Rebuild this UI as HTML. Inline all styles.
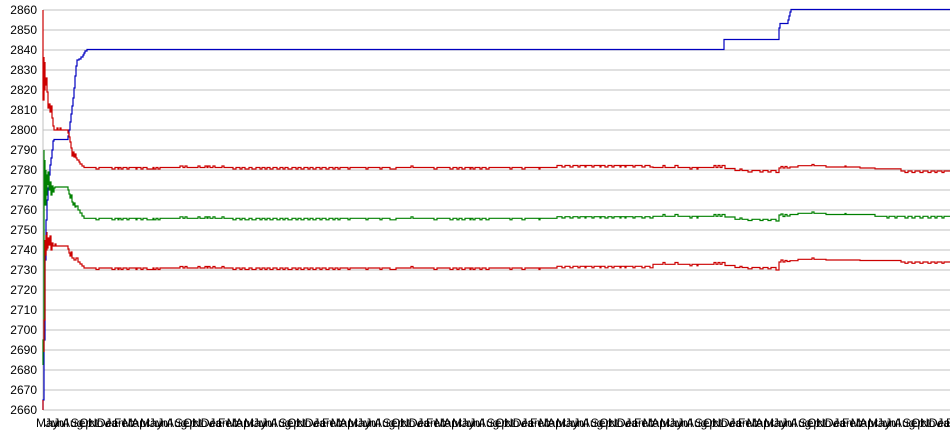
<!DOCTYPE html>
<html>
<head>
<meta charset="utf-8">
<style>
html,body{margin:0;padding:0;background:#fff;}
svg{display:block;}
text{font-family:"Liberation Sans",Arial,sans-serif;fill:#000;}
</style>
</head>
<body>
<svg width="950" height="435" viewBox="0 0 950 435" xmlns="http://www.w3.org/2000/svg">
<rect x="0" y="0" width="950" height="435" fill="#fff"/>
<g stroke="#c0c0c0" stroke-width="1" shape-rendering="crispEdges">
<line x1="43" y1="10" x2="950" y2="10"/>
<line x1="43" y1="30" x2="950" y2="30"/>
<line x1="43" y1="50" x2="950" y2="50"/>
<line x1="43" y1="70" x2="950" y2="70"/>
<line x1="43" y1="90" x2="950" y2="90"/>
<line x1="43" y1="110" x2="950" y2="110"/>
<line x1="43" y1="130" x2="950" y2="130"/>
<line x1="43" y1="150" x2="950" y2="150"/>
<line x1="43" y1="170" x2="950" y2="170"/>
<line x1="43" y1="190" x2="950" y2="190"/>
<line x1="43" y1="210" x2="950" y2="210"/>
<line x1="43" y1="230" x2="950" y2="230"/>
<line x1="43" y1="250" x2="950" y2="250"/>
<line x1="43" y1="270" x2="950" y2="270"/>
<line x1="43" y1="290" x2="950" y2="290"/>
<line x1="43" y1="310" x2="950" y2="310"/>
<line x1="43" y1="330" x2="950" y2="330"/>
<line x1="43" y1="350" x2="950" y2="350"/>
<line x1="43" y1="370" x2="950" y2="370"/>
<line x1="43" y1="390" x2="950" y2="390"/>
<line x1="43" y1="410" x2="950" y2="410"/>
<line x1="43" y1="10" x2="43" y2="410"/>
</g>
<g font-size="12" text-anchor="end">
<text x="37" y="14">2860</text>
<text x="37" y="34">2850</text>
<text x="37" y="54">2840</text>
<text x="37" y="74">2830</text>
<text x="37" y="94">2820</text>
<text x="37" y="114">2810</text>
<text x="37" y="134">2800</text>
<text x="37" y="154">2790</text>
<text x="37" y="174">2780</text>
<text x="37" y="194">2770</text>
<text x="37" y="214">2760</text>
<text x="37" y="234">2750</text>
<text x="37" y="254">2740</text>
<text x="37" y="274">2730</text>
<text x="37" y="294">2720</text>
<text x="37" y="314">2710</text>
<text x="37" y="334">2700</text>
<text x="37" y="354">2690</text>
<text x="37" y="374">2680</text>
<text x="37" y="394">2670</text>
<text x="37" y="414">2660</text>
</g>
<g font-size="12">
<g transform="translate(0,427)"><text x="36">May</text><text x="44.7">Jun</text><text x="53.3">Jul</text><text x="62">Aug</text><text x="70.7">Sep</text><text x="79.3">Oct</text><text x="88">Nov</text><text x="96.7">Dec</text><text x="105.3">Jan</text><text x="114">Feb</text><text x="122.7">Mar</text><text x="131.3">Apr</text></g>
<g transform="translate(104,427)"><text x="36">May</text><text x="44.7">Jun</text><text x="53.3">Jul</text><text x="62">Aug</text><text x="70.7">Sep</text><text x="79.3">Oct</text><text x="88">Nov</text><text x="96.7">Dec</text><text x="105.3">Jan</text><text x="114">Feb</text><text x="122.7">Mar</text><text x="131.3">Apr</text></g>
<g transform="translate(208,427)"><text x="36">May</text><text x="44.7">Jun</text><text x="53.3">Jul</text><text x="62">Aug</text><text x="70.7">Sep</text><text x="79.3">Oct</text><text x="88">Nov</text><text x="96.7">Dec</text><text x="105.3">Jan</text><text x="114">Feb</text><text x="122.7">Mar</text><text x="131.3">Apr</text></g>
<g transform="translate(312,427)"><text x="36">May</text><text x="44.7">Jun</text><text x="53.3">Jul</text><text x="62">Aug</text><text x="70.7">Sep</text><text x="79.3">Oct</text><text x="88">Nov</text><text x="96.7">Dec</text><text x="105.3">Jan</text><text x="114">Feb</text><text x="122.7">Mar</text><text x="131.3">Apr</text></g>
<g transform="translate(416,427)"><text x="36">May</text><text x="44.7">Jun</text><text x="53.3">Jul</text><text x="62">Aug</text><text x="70.7">Sep</text><text x="79.3">Oct</text><text x="88">Nov</text><text x="96.7">Dec</text><text x="105.3">Jan</text><text x="114">Feb</text><text x="122.7">Mar</text><text x="131.3">Apr</text></g>
<g transform="translate(520,427)"><text x="36">May</text><text x="44.7">Jun</text><text x="53.3">Jul</text><text x="62">Aug</text><text x="70.7">Sep</text><text x="79.3">Oct</text><text x="88">Nov</text><text x="96.7">Dec</text><text x="105.3">Jan</text><text x="114">Feb</text><text x="122.7">Mar</text><text x="131.3">Apr</text></g>
<g transform="translate(624,427)"><text x="36">May</text><text x="44.7">Jun</text><text x="53.3">Jul</text><text x="62">Aug</text><text x="70.7">Sep</text><text x="79.3">Oct</text><text x="88">Nov</text><text x="96.7">Dec</text><text x="105.3">Jan</text><text x="114">Feb</text><text x="122.7">Mar</text><text x="131.3">Apr</text></g>
<g transform="translate(728,427)"><text x="36">May</text><text x="44.7">Jun</text><text x="53.3">Jul</text><text x="62">Aug</text><text x="70.7">Sep</text><text x="79.3">Oct</text><text x="88">Nov</text><text x="96.7">Dec</text><text x="105.3">Jan</text><text x="114">Feb</text><text x="122.7">Mar</text><text x="131.3">Apr</text></g>
<g transform="translate(832,427)"><text x="36">May</text><text x="44.7">Jun</text><text x="53.3">Jul</text><text x="62">Aug</text><text x="70.7">Sep</text><text x="79.3">Oct</text><text x="88">Nov</text><text x="96.7">Dec</text><text x="105.3">Jan</text><text x="114">Feb</text><text x="122.7">Mar</text><text x="131.3">Apr</text></g>
</g>
<g fill="none" stroke-width="1.2" stroke-linejoin="miter">
<path stroke="#0000c0" d="M43,410 V400 H44 V340 H45 V260 H46 V220 H47 V200 H48 V188 H49 V175 H50 V165 H51 V158 H52 V150 H53 V141 H54 V139.5 H68 V136 H69 V130 H70 V122 H71 V114 H72 V106 H73 V98 H74 V88 H75 V76 H76 V66 H77 V60 H79 V59 H81 V57 H83 V55 H84 V53 H85 V51 H87 V49.5 H724 V39.5 H779 V28 H780 V23.5 H788 V20 H789 V16 H790 V12 H791 V9.5 H950"/>
<path stroke="#008000" d="M43,365 V340 H44 V150 V200 H45 V160 V205 H46 V170 V195 H47 V175 H48 V185 V172 H49 V190 H50 V182 H51 V195 H52 V186 H53 V192 H54 V188 H55 V187 H68 V190 H69 V194 H70 V198 H71 V195 H72 V202 H73 V205 H74 V203 H75 V207 H76 V206 H78 V210 H80 V213 H82 V216 H84 V218.3 H96 V219.8 H99 V218.3 H112 V219.8 H115 V218.3 H118 V219.8 H119 V218.3 H121 V219.8 H123 V218.3 H127 V219.8 H129 V218.3 H136 V219.8 H137 V218.3 H141 V219.8 H143 V218.3 H147 V219.8 H153 V218.3 H154 V219.8 H156 V218.3 H158 V219.8 H160 V218.3 H180 V216.8 H183 V218.3 H185 V216.8 H187 V218.3 H198 V216.8 H200 V218.3 H205 V216.8 H207 V218.3 H208 V216.8 H210 V218.3 H213 V216.8 H215 V218.3 H222 V216.8 H224 V218.3 H233 V219.8 H236 V218.3 H240 V219.8 H242 V218.3 H245 V219.8 H249 V218.3 H252 V219.8 H256 V218.3 H260 V219.8 H262 V218.3 H265 V219.8 H267 V218.3 H270 V219.8 H273 V218.3 H277 V219.8 H280 V218.3 H283 V219.8 H285 V218.3 H288 V219.8 H292 V218.3 H296 V219.8 H298 V218.3 H301 V219.8 H304 V218.3 H308 V219.8 H310 V218.3 H313 V219.8 H316 V218.3 H320 V219.8 H322 V218.3 H326 V219.8 H329 V218.3 H333 V219.8 H335 V218.3 H338 V219.8 H340 V218.3 H348 V219.8 H350 V218.3 H366 V219.8 H368 V218.3 H380 V219.8 H382 V218.3 H390 V219.8 H396 V218.3 H411 V216.8 H413 V218.3 H434 V219.8 H437 V218.3 H450 V219.8 H453 V218.3 H457 V219.8 H459 V218.3 H462 V219.8 H465 V218.3 H470 V219.8 H471 V218.3 H473 V219.8 H475 V218.3 H480 V219.8 H482 V218.3 H486 V219.8 H489 V218.3 H510 V219.8 H512 V218.3 H522 V219.8 H525 V218.3 H539 V219.8 H540 V218.3 H557 V216.7 H562 V218 H565 V216.7 H570 V218 H573 V216.7 H578 V218 H580 V216.7 H585 V218 H586 V216.7 H592 V218 H594 V216.7 H600 V218 H601 V216.7 H605 V218 H608 V216.7 H612 V218 H614 V216.7 H620 V218 H621 V216.7 H625 V218 H626 V216.7 H633 V218 H635 V216.7 H642 V218 H645 V216.7 H650 V218 H653 V216.3 H663 V214.5 H665 V216.3 H675 V214.5 H678 V216.3 H690 V218 H692 V216.3 H697 V218 H698 V216.3 H714 V214.5 H716 V216.3 H718 V214.5 H720 V216.3 H722 V214.5 H725 V217 H735 V219.3 H740 V218 H742 V219.3 H748 V220.5 H752 V219.3 H760 V220.5 H763 V219.3 H768 V220.5 H771 V219.3 H776 V221 H779 V215 H781 V214 H783 V216.5 H785 V214.5 H787 V216 H790 V214.5 H798 V213.3 H812 V212 H814 V213.3 H826 V214.5 H845 V213.5 H846 V214.5 H875 V216.3 H887 V218 H889 V216.3 H895 V218 H897 V216.3 H905 V218 H908 V216.3 H912 V218 H915 V216.3 H920 V218 H923 V216.3 H928 V218 H931 V216.3 H935 V218 H937 V216.3 H942 V218 H944 V216.3 H950"/>
<path stroke="#cc0000" d="M43,10 V100 H44 V57 V90 H45 V62 V85 H46 V78 H47 V92 H48 V98 V108 H49 V104 H50 V112 H51 V106 H52 V118 H53 V126 H54 V130 H57 V128 H58 V130 H60 V128 H61 V130 H68 V133 H69 V137 H70 V142 H71 V148 H72 V156 H73 V152 H74 V157 H75 V154 H76 V158 H77 V160 H79 V162 H80 V164 H82 V166 H84 V167.5 H96 V169 H99 V167.5 H112 V169 H115 V167.5 H118 V169 H119 V167.5 H121 V169 H123 V167.5 H127 V169 H129 V167.5 H136 V169 H137 V167.5 H141 V169 H143 V167.5 H147 V169 H153 V167.5 H154 V169 H156 V167.5 H158 V169 H160 V167.5 H180 V166 H183 V167.5 H185 V166 H187 V167.5 H198 V166 H200 V167.5 H205 V166 H207 V167.5 H208 V166 H210 V167.5 H213 V166 H215 V167.5 H222 V166 H224 V167.5 H233 V169 H236 V167.5 H240 V169 H242 V167.5 H245 V169 H249 V167.5 H252 V169 H256 V167.5 H260 V169 H262 V167.5 H265 V169 H267 V167.5 H270 V169 H273 V167.5 H277 V169 H280 V167.5 H283 V169 H285 V167.5 H288 V169 H292 V167.5 H296 V169 H298 V167.5 H301 V169 H304 V167.5 H308 V169 H310 V167.5 H313 V169 H316 V167.5 H320 V169 H322 V167.5 H326 V169 H329 V167.5 H333 V169 H335 V167.5 H338 V169 H340 V167.5 H348 V169 H350 V167.5 H366 V169 H368 V167.5 H380 V169 H382 V167.5 H390 V169 H396 V167.5 H411 V166 H413 V167.5 H434 V169 H437 V167.5 H450 V169 H453 V167.5 H457 V169 H459 V167.5 H462 V169 H465 V167.5 H470 V169 H471 V167.5 H473 V169 H475 V167.5 H480 V169 H482 V167.5 H486 V169 H489 V167.5 H510 V169 H512 V167.5 H522 V169 H525 V167.5 H539 V169 H540 V167.5 H557 V165.5 H562 V167 H565 V165.5 H570 V167 H573 V165.5 H578 V167 H580 V165.5 H585 V167 H586 V165.5 H592 V167 H594 V165.5 H600 V167 H601 V165.5 H605 V167 H608 V165.5 H612 V167 H614 V165.5 H620 V167 H621 V165.5 H625 V167 H626 V165.5 H633 V167 H635 V165.5 H642 V167 H645 V165.5 H650 V167 H653 V167.5 H663 V165.5 H665 V167.5 H675 V165.5 H678 V167.5 H690 V169 H692 V167.5 H697 V169 H698 V167.5 H714 V165.5 H716 V167.5 H718 V165.5 H720 V167.5 H722 V165.5 H725 V168.5 H735 V170.5 H740 V169 H742 V170.5 H748 V172 H752 V170.5 H760 V172 H763 V170.5 H768 V172 H771 V170.5 H776 V172.5 H779 V168 H781 V166.5 H783 V168 H785 V166.5 H787 V168 H790 V167 H798 V165.7 H812 V164.5 H814 V165.7 H826 V167 H845 V166 H846 V167 H860 V168 H875 V168.8 H901 V171 H905 V172.5 H908 V171 H912 V172.5 H915 V171 H920 V172.5 H923 V171 H928 V172.5 H931 V171 H935 V172.5 H937 V171 H942 V172.5 H944 V171 H950"/>
<path stroke="#cc0000" d="M43,410 V400 M44,352 V320 H45 V240 V255 H46 V235 V250 H47 V232 V248 H48 V238 H49 V245 H50 V236 H51 V250 H52 V243 H53 V246 H55 V244 H56 V246 H68 V249 H69 V253 H70 V256 H71 V252 H72 V258 H74 V260 H76 V258 H78 V262 H80 V264 H82 V266 H84 V268 H96 V269.5 H99 V268 H112 V269.5 H115 V268 H118 V269.5 H119 V268 H121 V269.5 H123 V268 H127 V269.5 H129 V268 H136 V269.5 H137 V268 H141 V269.5 H143 V268 H147 V269.5 H153 V268 H154 V269.5 H156 V268 H158 V269.5 H160 V268 H180 V266.5 H183 V268 H185 V266.5 H187 V268 H198 V266.5 H200 V268 H205 V266.5 H207 V268 H208 V266.5 H210 V268 H213 V266.5 H215 V268 H222 V266.5 H224 V268 H233 V269.5 H236 V268 H240 V269.5 H242 V268 H245 V269.5 H249 V268 H252 V269.5 H256 V268 H260 V269.5 H262 V268 H265 V269.5 H267 V268 H270 V269.5 H273 V268 H277 V269.5 H280 V268 H283 V269.5 H285 V268 H288 V269.5 H292 V268 H296 V269.5 H298 V268 H301 V269.5 H304 V268 H308 V269.5 H310 V268 H313 V269.5 H316 V268 H320 V269.5 H322 V268 H326 V269.5 H329 V268 H333 V269.5 H335 V268 H338 V269.5 H340 V268 H348 V269.5 H350 V268 H366 V269.5 H368 V268 H380 V269.5 H382 V268 H390 V269.5 H396 V268 H411 V266.5 H413 V268 H434 V269.5 H437 V268 H450 V269.5 H453 V268 H457 V269.5 H459 V268 H462 V269.5 H465 V268 H470 V269.5 H471 V268 H473 V269.5 H475 V268 H480 V269.5 H482 V268 H486 V269.5 H489 V268 H510 V269.5 H512 V268 H522 V269.5 H525 V268 H539 V269.5 H540 V268 H557 V266.3 H562 V267.8 H565 V266.3 H570 V267.8 H573 V266.3 H578 V267.8 H580 V266.3 H585 V267.8 H586 V266.3 H592 V267.8 H594 V266.3 H600 V267.8 H601 V266.3 H605 V267.8 H608 V266.3 H612 V267.8 H614 V266.3 H620 V267.8 H621 V266.3 H625 V267.8 H626 V266.3 H633 V267.8 H635 V266.3 H642 V267.8 H645 V266.3 H650 V267.8 H653 V264.3 H663 V262.5 H665 V264.3 H675 V262.5 H678 V264.3 H690 V265.8 H692 V264.3 H697 V265.8 H698 V264.3 H714 V262.5 H716 V264.3 H718 V262.5 H720 V264.3 H722 V262.5 H725 V265.5 H735 V267.5 H740 V266.3 H742 V267.5 H748 V268.8 H752 V267.5 H760 V268.8 H763 V267.5 H768 V268.8 H771 V267.5 H776 V270 H779 V262 H781 V260 H783 V262 H785 V260.5 H787 V261.5 H790 V260.7 H798 V259.3 H812 V258 H814 V259.3 H826 V260 H860 V260.5 H901 V262 H905 V263.3 H908 V262 H912 V263.3 H915 V262 H920 V263.3 H923 V262 H928 V263.3 H931 V262 H935 V263.3 H937 V262 H942 V263.3 H944 V262 H950"/>
</g>
</svg>
</body>
</html>
